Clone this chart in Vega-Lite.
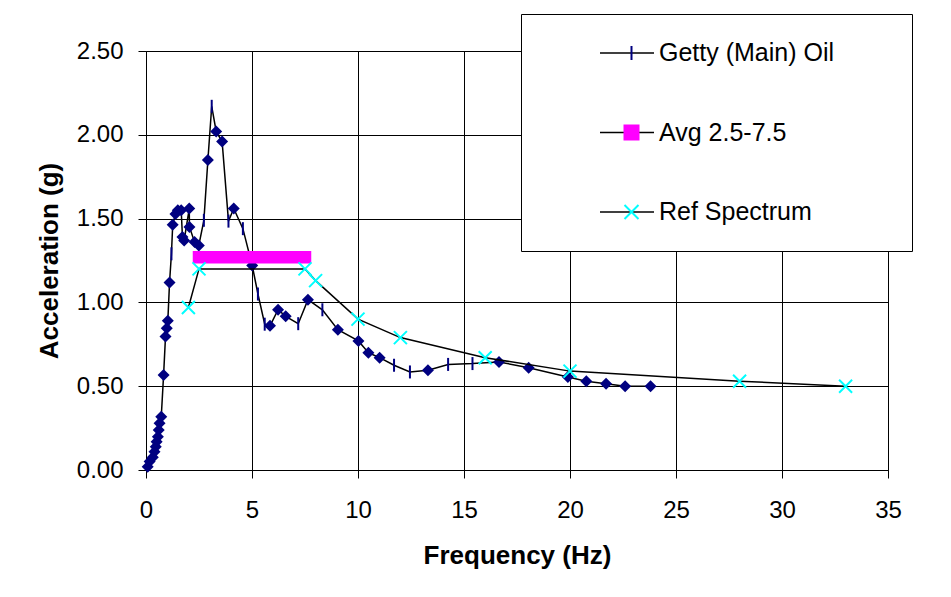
{
  "$schema": "https://vega.github.io/schema/vega-lite/v6.json",
  "width": 742,
  "height": 419,
  "autosize": {"type": "none"},
  "padding": {"left": 146, "top": 51, "right": 63, "bottom": 127},
  "background": "white",
  "config": {
    "font": "Liberation Sans",
    "view": {"stroke": "#808080", "strokeWidth": 1},
    "axis": {
      "domainColor": "black",
      "domainWidth": 1,
      "tickColor": "black",
      "tickWidth": 1,
      "tickSize": 8,
      "gridColor": "black",
      "gridOpacity": 1,
      "gridWidth": 1,
      "labelColor": "black",
      "labelFont": "Liberation Sans",
      "labelFontSize": 24,
      "labelFlush": false,
      "labelOverlap": false,
      "titleFont": "Liberation Sans",
      "titleFontSize": 26,
      "titleFontWeight": "bold",
      "titleColor": "black"
    }
  },
  "datasets": {
    "getty": [
      {"series": "Getty (Main) Oil", "freq": 0.08, "accel": 0.02, "marked": true},
      {"series": "Getty (Main) Oil", "freq": 0.17, "accel": 0.05, "marked": true},
      {"series": "Getty (Main) Oil", "freq": 0.32, "accel": 0.076, "marked": true},
      {"series": "Getty (Main) Oil", "freq": 0.40, "accel": 0.109, "marked": true},
      {"series": "Getty (Main) Oil", "freq": 0.46, "accel": 0.139, "marked": true},
      {"series": "Getty (Main) Oil", "freq": 0.50, "accel": 0.169, "marked": true},
      {"series": "Getty (Main) Oil", "freq": 0.56, "accel": 0.199, "marked": true},
      {"series": "Getty (Main) Oil", "freq": 0.60, "accel": 0.239, "marked": true},
      {"series": "Getty (Main) Oil", "freq": 0.64, "accel": 0.279, "marked": true},
      {"series": "Getty (Main) Oil", "freq": 0.72, "accel": 0.318, "marked": true},
      {"series": "Getty (Main) Oil", "freq": 0.83, "accel": 0.567, "marked": true},
      {"series": "Getty (Main) Oil", "freq": 0.92, "accel": 0.796, "marked": true},
      {"series": "Getty (Main) Oil", "freq": 0.98, "accel": 0.846, "marked": true},
      {"series": "Getty (Main) Oil", "freq": 1.03, "accel": 0.89, "marked": true},
      {"series": "Getty (Main) Oil", "freq": 1.11, "accel": 1.118, "marked": true},
      {"series": "Getty (Main) Oil", "freq": 1.20, "accel": 1.29, "marked": false},
      {"series": "Getty (Main) Oil", "freq": 1.26, "accel": 1.463, "marked": true},
      {"series": "Getty (Main) Oil", "freq": 1.39, "accel": 1.528, "marked": true},
      {"series": "Getty (Main) Oil", "freq": 1.50, "accel": 1.55, "marked": true},
      {"series": "Getty (Main) Oil", "freq": 1.66, "accel": 1.55, "marked": true},
      {"series": "Getty (Main) Oil", "freq": 1.72, "accel": 1.39, "marked": true},
      {"series": "Getty (Main) Oil", "freq": 1.80, "accel": 1.37, "marked": true},
      {"series": "Getty (Main) Oil", "freq": 2.04, "accel": 1.56, "marked": true},
      {"series": "Getty (Main) Oil", "freq": 2.05, "accel": 1.45, "marked": true},
      {"series": "Getty (Main) Oil", "freq": 2.29, "accel": 1.36, "marked": true},
      {"series": "Getty (Main) Oil", "freq": 2.49, "accel": 1.34, "marked": true},
      {"series": "Getty (Main) Oil", "freq": 2.73, "accel": 1.49, "marked": false},
      {"series": "Getty (Main) Oil", "freq": 2.92, "accel": 1.85, "marked": true},
      {"series": "Getty (Main) Oil", "freq": 3.10, "accel": 2.17, "marked": false},
      {"series": "Getty (Main) Oil", "freq": 3.31, "accel": 2.02, "marked": true},
      {"series": "Getty (Main) Oil", "freq": 3.59, "accel": 1.96, "marked": true},
      {"series": "Getty (Main) Oil", "freq": 3.89, "accel": 1.485, "marked": false},
      {"series": "Getty (Main) Oil", "freq": 4.14, "accel": 1.56, "marked": true},
      {"series": "Getty (Main) Oil", "freq": 4.57, "accel": 1.44, "marked": false},
      {"series": "Getty (Main) Oil", "freq": 5.01, "accel": 1.22, "marked": true},
      {"series": "Getty (Main) Oil", "freq": 5.28, "accel": 1.05, "marked": false},
      {"series": "Getty (Main) Oil", "freq": 5.60, "accel": 0.87, "marked": false},
      {"series": "Getty (Main) Oil", "freq": 5.85, "accel": 0.86, "marked": true},
      {"series": "Getty (Main) Oil", "freq": 6.23, "accel": 0.956, "marked": true},
      {"series": "Getty (Main) Oil", "freq": 6.59, "accel": 0.917, "marked": true},
      {"series": "Getty (Main) Oil", "freq": 7.18, "accel": 0.873, "marked": false},
      {"series": "Getty (Main) Oil", "freq": 7.64, "accel": 1.016, "marked": true},
      {"series": "Getty (Main) Oil", "freq": 8.32, "accel": 0.956, "marked": false},
      {"series": "Getty (Main) Oil", "freq": 9.05, "accel": 0.837, "marked": true},
      {"series": "Getty (Main) Oil", "freq": 10.02, "accel": 0.77, "marked": true},
      {"series": "Getty (Main) Oil", "freq": 10.49, "accel": 0.70, "marked": true},
      {"series": "Getty (Main) Oil", "freq": 11.02, "accel": 0.67, "marked": true},
      {"series": "Getty (Main) Oil", "freq": 11.70, "accel": 0.625, "marked": false},
      {"series": "Getty (Main) Oil", "freq": 12.45, "accel": 0.585, "marked": false},
      {"series": "Getty (Main) Oil", "freq": 13.30, "accel": 0.595, "marked": true},
      {"series": "Getty (Main) Oil", "freq": 14.25, "accel": 0.63, "marked": false},
      {"series": "Getty (Main) Oil", "freq": 15.40, "accel": 0.635, "marked": false},
      {"series": "Getty (Main) Oil", "freq": 16.65, "accel": 0.645, "marked": true},
      {"series": "Getty (Main) Oil", "freq": 18.05, "accel": 0.61, "marked": true},
      {"series": "Getty (Main) Oil", "freq": 19.90, "accel": 0.555, "marked": true},
      {"series": "Getty (Main) Oil", "freq": 20.77, "accel": 0.53, "marked": true},
      {"series": "Getty (Main) Oil", "freq": 21.70, "accel": 0.515, "marked": true},
      {"series": "Getty (Main) Oil", "freq": 22.60, "accel": 0.50, "marked": true},
      {"series": "Getty (Main) Oil", "freq": 23.80, "accel": 0.50, "marked": true}
    ],
    "avg": [
      {"series": "Avg 2.5-7.5", "freq_start": 2.5, "freq_end": 7.5, "accel": 1.27}
    ],
    "ref": [
      {"series": "Ref Spectrum", "freq": 2, "accel": 0.97},
      {"series": "Ref Spectrum", "freq": 2.5, "accel": 1.2},
      {"series": "Ref Spectrum", "freq": 7.5, "accel": 1.2},
      {"series": "Ref Spectrum", "freq": 8, "accel": 1.13},
      {"series": "Ref Spectrum", "freq": 10, "accel": 0.9},
      {"series": "Ref Spectrum", "freq": 12, "accel": 0.79},
      {"series": "Ref Spectrum", "freq": 16, "accel": 0.67},
      {"series": "Ref Spectrum", "freq": 20, "accel": 0.59},
      {"series": "Ref Spectrum", "freq": 28, "accel": 0.53},
      {"series": "Ref Spectrum", "freq": 33, "accel": 0.5}
    ]
  },
  "encoding": {
    "x": {
      "field": "freq",
      "type": "quantitative",
      "scale": {"domain": [0, 35], "nice": false},
      "axis": {
        "values": [0, 5, 10, 15, 20, 25, 30, 35],
        "format": "d",
        "labelPadding": 20,
        "title": "Frequency (Hz)",
        "titlePadding": 20
      }
    },
    "y": {
      "field": "accel",
      "type": "quantitative",
      "scale": {"domain": [0, 2.5], "nice": false},
      "axis": {
        "values": [0, 0.5, 1, 1.5, 2, 2.5],
        "format": ".2f",
        "labelPadding": 15,
        "title": "Acceleration (g)",
        "titlePadding": 14
      }
    }
  },
  "layer": [
    {
      "data": {"name": "getty"},
      "mark": {"type": "line", "strokeWidth": 1.5},
      "encoding": {
        "color": {
          "field": "series",
          "type": "nominal",
          "scale": {
            "domain": ["Getty (Main) Oil", "Avg 2.5-7.5", "Ref Spectrum"],
            "range": ["black", "black", "black"]
          },
          "legend": {
            "orient": "none",
            "legendX": 375,
            "legendY": -37,
            "title": null,
            "direction": "vertical",
            "strokeColor": "black",
            "fillColor": "white",
            "padding": 26,
            "clipHeight": 26,
            "rowPadding": 53.5,
            "symbolType": "M-1,0H1",
            "symbolSize": 2916,
            "symbolStrokeWidth": 1.5,
            "symbolOffset": 52,
            "labelOffset": 231,
            "labelFont": "Liberation Sans",
            "labelFontSize": 25,
            "labelExpr": "''"
          }
        }
      }
    },
    {
      "data": {"name": "getty"},
      "transform": [{"filter": "datum.marked"}],
      "mark": {"type": "point", "shape": "diamond", "filled": true, "color": "#000080", "size": 144, "opacity": 1}
    },
    {
      "data": {"name": "getty"},
      "transform": [{"filter": "!datum.marked"}],
      "mark": {"type": "point", "size": 169, "strokeWidth": 2, "opacity": 1},
      "encoding": {
        "shape": {
          "field": "series",
          "type": "nominal",
          "scale": {
            "domain": ["Avg 2.5-7.5", "Getty (Main) Oil", "Ref Spectrum"],
            "range": ["square", "M0,-1V1", "M-1,-1L1,1M-1,1L1,-1"]
          },
          "legend": {
            "orient": "none", "legendX": 375, "legendY": -37, "title": null, "direction": "vertical",
            "padding": 26, "clipHeight": 26, "rowPadding": 53.5, "symbolSize": 196, "symbolStrokeWidth": 2,
            "symbolOffset": 72, "labelOffset": 15, "labelFont": "Liberation Sans", "labelFontSize": 25,
            "labelColor": "black", "labelLimit": 500,
            "values": ["Getty (Main) Oil", "Avg 2.5-7.5", "Ref Spectrum"]
          }
        },
        "stroke": {
          "field": "series",
          "type": "nominal",
          "scale": {
            "domain": ["Avg 2.5-7.5", "Getty (Main) Oil", "Ref Spectrum"],
            "range": ["#ff00ff", "#000080", "#00ffff"]
          },
          "legend": {
            "orient": "none", "legendX": 375, "legendY": -37, "title": null, "direction": "vertical",
            "padding": 26, "clipHeight": 26, "rowPadding": 53.5, "symbolSize": 196, "symbolStrokeWidth": 2,
            "symbolOffset": 72, "labelOffset": 15, "labelFont": "Liberation Sans", "labelFontSize": 25,
            "labelColor": "black", "labelLimit": 500,
            "values": ["Getty (Main) Oil", "Avg 2.5-7.5", "Ref Spectrum"]
          }
        },
        "fill": {
          "field": "series",
          "type": "nominal",
          "scale": {
            "domain": ["Avg 2.5-7.5", "Getty (Main) Oil", "Ref Spectrum"],
            "range": ["#ff00ff", "transparent", "transparent"]
          },
          "legend": {
            "orient": "none", "legendX": 375, "legendY": -37, "title": null, "direction": "vertical",
            "padding": 26, "clipHeight": 26, "rowPadding": 53.5, "symbolSize": 196, "symbolStrokeWidth": 2,
            "symbolOffset": 72, "labelOffset": 15, "labelFont": "Liberation Sans", "labelFontSize": 25,
            "labelColor": "black", "labelLimit": 500,
            "values": ["Getty (Main) Oil", "Avg 2.5-7.5", "Ref Spectrum"]
          }
        }
      }
    },
    {
      "data": {"name": "avg"},
      "mark": {"type": "rule", "color": "#ff00ff", "strokeWidth": 12.5, "strokeCap": "square"},
      "encoding": {
        "x": {"field": "freq_start", "type": "quantitative"},
        "x2": {"field": "freq_end"},
        "y": {"field": "accel", "type": "quantitative"}
      }
    },
    {
      "data": {"name": "ref"},
      "mark": {"type": "line", "strokeWidth": 1.5},
      "encoding": {
        "color": {"field": "series", "type": "nominal"}
      }
    },
    {
      "data": {"name": "ref"},
      "mark": {"type": "point", "size": 169, "strokeWidth": 2, "opacity": 1},
      "encoding": {
        "shape": {"field": "series", "type": "nominal"},
        "stroke": {"field": "series", "type": "nominal"},
        "fill": {"field": "series", "type": "nominal"}
      }
    }
  ]
}
